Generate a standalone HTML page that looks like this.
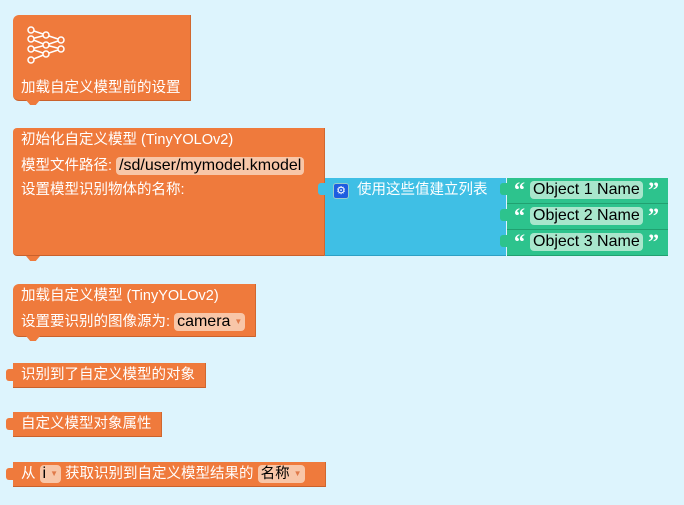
<!DOCTYPE html>
<html><head><meta charset="utf-8"><style>
body{margin:0;width:684px;height:505px;background:#ddf4fd;position:relative;overflow:hidden;font-family:"Liberation Sans","Noto Sans CJK SC",sans-serif;font-size:14.5px;color:#fff}
.b{position:absolute;background:#ef7a3c;border-bottom:1px solid #c9612c;border-right:1px solid #d0672f;border-radius:4px 0 0 4px}
.t{position:absolute;white-space:nowrap;line-height:18px}
.f{display:inline-block;background:#f8c6a8;color:#000;border-radius:4px;padding:0 3px;line-height:18px;font-size:16px}
.g{position:absolute;background:#2dc38d;border-bottom:1px solid #21a070;left:507px;width:161px;height:25px}
.g .f{background:#a8e6cc;position:absolute;left:23px;top:3px;font-size:16px;padding:0 3px}
.q{position:absolute;font-weight:bold;font-size:22px;font-family:"Liberation Serif",serif;top:-1px;line-height:26px}
.tab{position:absolute;width:7px;height:12px;background:#ef7a3c;border-radius:3px 0 0 3px}
.notch{position:absolute;width:14px;height:5px;background:#ef7a3c;clip-path:polygon(0 0,100% 0,70% 100%,30% 100%)}
.arr{font-size:8px;color:#e07a4a;margin-left:4px;vertical-align:2px}
</style></head><body>
<!-- block1 -->
<div class="b" style="left:13px;top:15px;width:177px;height:85px;border-radius:6px 0 0 6px"></div>
<div class="notch" style="left:26px;top:100px"></div>
<svg style="position:absolute;left:20px;top:22px" width="50" height="46" viewBox="20 22 50 46" fill="none" stroke="#fff" stroke-width="1.5">
<path d="M31 30L46 35M31 39L46 35M31 39L46 45M31 49L46 45M31 49L46 54M31 60L46 54M46 35L61 40M46 45L61 40M46 45L61 49M46 54L61 49"/>
<g fill="#ef7a3c"><circle cx="31" cy="30" r="3"/><circle cx="31" cy="39" r="3"/><circle cx="31" cy="49" r="3"/><circle cx="31" cy="60" r="3"/><circle cx="46" cy="35" r="3"/><circle cx="46" cy="45" r="3"/><circle cx="46" cy="54" r="3"/><circle cx="61" cy="40" r="3"/><circle cx="61" cy="49" r="3"/></g></svg>
<div class="t" style="left:21px;top:79px">加载自定义模型前的设置</div>

<!-- block2 -->
<div class="b" style="left:13px;top:128px;width:311px;height:127px"></div>
<div class="notch" style="left:26px;top:256px"></div>
<div class="t" style="left:21px;top:131px">初始化自定义模型 (TinyYOLOv2)</div>
<div class="t" style="left:21px;top:157px">模型文件路径: <span class="f">/sd/user/mymodel.kmodel</span></div>
<div class="t" style="left:21px;top:181px">设置模型识别物体的名称:</div>
<!-- blue -->
<div style="position:absolute;left:325px;top:178px;width:181px;height:77px;background:#3fbfe5;border-bottom:1px solid #2ea0c4"></div>
<div style="position:absolute;left:318px;top:183px;width:8px;height:12px;background:#3fbfe5;border-radius:3px 0 0 3px"></div>
<div style="position:absolute;left:333px;top:183px;width:14px;height:14px;background:#1e5de0;border-radius:3px;color:#fff;font-size:11px;line-height:14px;text-align:center;border:1px solid #9cc">⚙</div>
<div class="t" style="left:357px;top:181px">使用这些值建立列表</div>
<!-- green -->
<div class="g" style="top:178px"><span class="q" style="left:7px">“</span><span class="f">Object 1 Name</span><span class="q" style="left:141px">”</span></div>
<div class="g" style="top:204px"><span class="q" style="left:7px">“</span><span class="f">Object 2 Name</span><span class="q" style="left:141px">”</span></div>
<div class="g" style="top:230px"><span class="q" style="left:7px">“</span><span class="f">Object 3 Name</span><span class="q" style="left:141px">”</span></div>
<div style="position:absolute;left:500px;top:183px;width:7px;height:12px;background:#2dc38d;border-radius:3px 0 0 3px"></div>
<div style="position:absolute;left:500px;top:209px;width:7px;height:12px;background:#2dc38d;border-radius:3px 0 0 3px"></div>
<div style="position:absolute;left:500px;top:235px;width:7px;height:12px;background:#2dc38d;border-radius:3px 0 0 3px"></div>

<!-- block3 -->
<div class="b" style="left:13px;top:284px;width:242px;height:52px;border-radius:6px 0 0 6px"></div>
<div class="notch" style="left:26px;top:336px"></div>
<div class="t" style="left:21px;top:287px">加载自定义模型 (TinyYOLOv2)</div>
<div class="t" style="left:21px;top:313px">设置要识别的图像源为: <span class="f">camera<span class="arr">▼</span></span></div>

<!-- block4 -->
<div class="b" style="left:13px;top:363px;width:192px;height:24px;border-radius:0"></div>
<div class="tab" style="left:6px;top:369px"></div>
<div class="t" style="left:21px;top:366px">识别到了自定义模型的对象</div>

<!-- block5 -->
<div class="b" style="left:13px;top:412px;width:148px;height:24px;border-radius:0"></div>
<div class="tab" style="left:6px;top:418px"></div>
<div class="t" style="left:21px;top:415px">自定义模型对象属性</div>

<!-- block6 -->
<div class="b" style="left:13px;top:462px;width:312px;height:24px;border-radius:0"></div>
<div class="tab" style="left:6px;top:468px"></div>
<div class="t" style="left:21px;top:465px">从 <span class="f">i<span class="arr">▼</span></span> 获取识别到自定义模型结果的 <span class="f" style="font-size:14.5px">名称<span class="arr">▼</span></span></div>
</body></html>
